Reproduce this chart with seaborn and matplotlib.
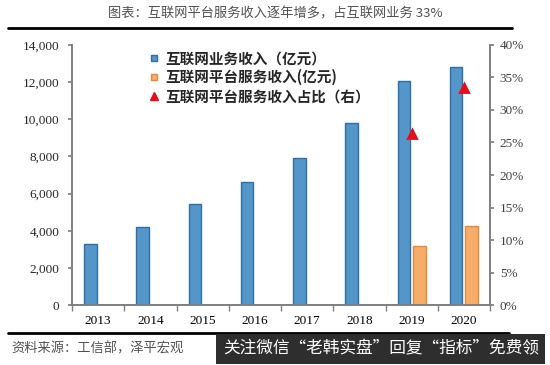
import numpy as np
import pandas as pd
import seaborn as sns
import matplotlib.pyplot as plt
from matplotlib.lines import Line2D
from matplotlib.ticker import FuncFormatter, FixedLocator

years = ["2013", "2014", "2015", "2016", "2017", "2018", "2019", "2020"]
internet_rev = [3300, 4200, 5450, 6650, 7900, 9800, 12050, 12800]
platform_rev = [np.nan, np.nan, np.nan, np.nan, np.nan, np.nan, 3180, 4250]
platform_share = [np.nan, np.nan, np.nan, np.nan, np.nan, np.nan, 26.3, 33.3]

s_internet = "互联网业务收入（亿元）"
s_platform = "互联网平台服务收入(亿元)"
s_share = "互联网平台服务收入占比（右）"

blue, blue_edge = "#5596C8", "#2F6EA6"
orange, orange_edge = "#F7AD6A", "#E5893C"
red = "#E3101B"
grey = "#7F7F7F"

sns.set_theme(style="white")
plt.rcParams["font.family"] = ["Liberation Serif", "Noto Sans CJK SC", "DejaVu Sans"]

df = pd.DataFrame({
    "year": years * 2,
    "series": [s_internet] * len(years) + [s_platform] * len(years),
    "value": internet_rev + platform_rev,
})

fig = plt.figure(figsize=(5.5, 3.65), dpi=100)
ax = fig.add_axes([0.131, 0.164, 0.76, 0.713])

sns.barplot(data=df, x="year", y="value", hue="series", order=years,
            hue_order=[s_internet, s_platform], palette=[blue, orange],
            width=0.6, gap=0.2, saturation=1, ax=ax, legend=False)
for patch in ax.patches:
    patch.set_edgecolor(blue_edge if patch.get_facecolor()[2] > 0.6 else orange_edge)
    patch.set_linewidth(1.0)

ax2 = ax.twinx()
sns.pointplot(x=years, y=platform_share, order=years, color=red, markers="^",
              linestyles="none", errorbar=None, markersize=6, ax=ax2)

ax.set_xlim(-0.5, 7.5)
ax.set_ylim(0, 14000)
ax2.set_ylim(0, 40)
ax.set_yticks(np.arange(0, 14001, 2000))
ax2.set_yticks(np.arange(0, 41, 5))
ax.yaxis.set_major_formatter(FuncFormatter(lambda v, p: f"{int(v):,}"))
ax2.yaxis.set_major_formatter(FuncFormatter(lambda v, p: f"{int(v)}%"))
ax.set_xlabel("")
ax.set_ylabel("")
ax2.set_xlabel("")
ax2.set_ylabel("")

for a in (ax, ax2):
    a.spines["top"].set_visible(False)
    for s in ("left", "right", "bottom"):
        a.spines[s].set_color(grey)
        a.spines[s].set_linewidth(1.2)
    a.grid(False)

ax.xaxis.set_minor_locator(FixedLocator(np.arange(-0.5, 8, 1)))
ax.tick_params(axis="x", which="major", length=0, pad=7, labelsize=9.5, colors="black")
ax.tick_params(axis="x", which="minor", length=4, direction="out", color=grey, bottom=True)
ax.tick_params(axis="y", length=3, direction="out", color=grey, labelsize=9.5, left=True, pad=6)
ax2.tick_params(axis="y", length=3, direction="out", color=grey, labelsize=9.5,
                right=True, labelcolor="#404040", pad=4)
for lab in ax.get_xticklabels() + ax.get_yticklabels():
    lab.set_fontfamily("Liberation Serif")

handles = [
    Line2D([], [], marker="s", linestyle="none", markersize=5, markerfacecolor=blue,
           markeredgecolor=blue_edge),
    Line2D([], [], marker="s", linestyle="none", markersize=5, markerfacecolor=orange,
           markeredgecolor=orange_edge),
    Line2D([], [], marker="^", linestyle="none", markersize=6, markerfacecolor=red,
           markeredgecolor=red),
]
leg = ax.legend(handles, [s_internet, s_platform, s_share], loc="upper left",
                bbox_to_anchor=(0.15, 1.03), frameon=False, handlelength=0.8,
                handletextpad=0.4, labelspacing=0.2,
                prop={"family": ["Noto Sans CJK SC"], "weight": "bold", "size": 10.5})

fig.text(0.5, 0.962, "图表：互联网平台服务收入逐年增多，占互联网业务 33%",
         ha="center", va="center", fontsize=9.5, color="#505050",
         family=["Noto Sans CJK SC", "DejaVu Sans"])
fig.add_artist(Line2D([0.015, 0.93], [0.922, 0.922], color="black", linewidth=2))
fig.add_artist(Line2D([0.015, 0.925], [0.088, 0.088], color="black", linewidth=2))
fig.text(0.02, 0.045, "资料来源：工信部，泽平宏观", ha="left", va="center",
         fontsize=9.5, color="#505050", style="italic",
         family=["Noto Sans CJK SC", "DejaVu Sans"])
fig.text(0.405, 0.043, "关注微信“老韩实盘”回复“指标”免费领", ha="left", va="center",
         fontsize=12, color="white", family=["Noto Sans CJK SC", "DejaVu Sans"],
         bbox=dict(boxstyle="square,pad=0.4", facecolor="#2E2E2E", edgecolor="none"))

fig.savefig("out.png", dpi=100)
